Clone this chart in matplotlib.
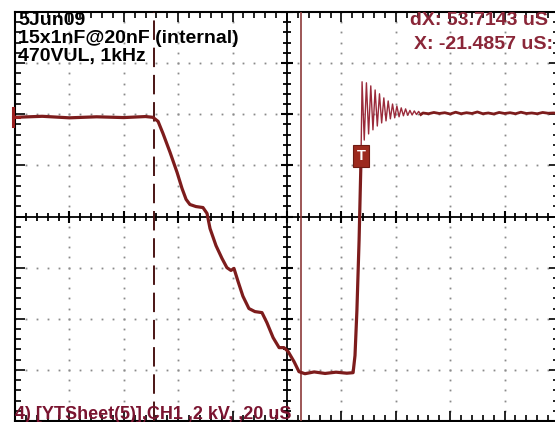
import numpy as np
import matplotlib
matplotlib.use("Agg")
import matplotlib.pyplot as plt

# ---------------- data (time in uS, voltage in kV, screen-centre referenced) -------------
t_main = [-100.0, -90.0, -80.0, -70.0, -60.0, -52.0, -49.3, -47.4, -45.6, -43.0, -40.4, -38.6,
          -37.1, -35.7, -33.5, -30.9, -29.4, -28.3, -26.1, -23.9, -22.1, -20.6, -19.5,
          -18.0, -16.2, -14.0, -11.8, -9.2, -7.4, -5.1, -2.9, -1.1, 0.4, 2.6, 4.4, 6.6,
          10.0, 14.0, 18.0, 22.0, 24.3, 25.0, 25.7, 26.5, 27.2]
v_main = [3.88, 3.92, 3.86, 3.90, 3.87, 3.91, 3.88, 3.72, 3.25, 2.51, 1.72, 1.10,
          0.67, 0.47, 0.39, 0.35, 0.12, -0.47, -1.14, -1.64, -2.00, -2.11, -2.03,
          -2.54, -3.12, -3.60, -3.72, -3.76, -4.15, -4.74, -5.13, -5.13, -5.28, -5.68, -6.07, -6.15,
          -6.08, -6.14, -6.09, -6.13, -6.11, -5.44, -3.68, -0.94, 2.21]

t_ring = [27.6, 28.4, 29.2, 30.0, 30.8, 31.6, 32.4, 33.2, 34.0, 34.8, 35.6, 36.4, 37.2, 38.0,
          38.8, 39.6, 40.4, 41.2, 42.0, 42.8, 43.6, 44.4, 45.2, 46.0, 46.8, 47.6, 48.4, 49.2]
v_ring = [5.27, 2.99, 5.23, 3.23, 5.11, 3.39, 4.95, 3.54, 4.80, 3.66, 4.64, 3.74, 4.52, 3.82,
          4.40, 3.86, 4.32, 3.90, 4.25, 3.94, 4.21, 3.96, 4.15, 3.97, 4.13, 3.99, 4.11, 3.99]

t_tail = [50.0, 52.0, 54.0, 56.0, 58.0, 60.0, 62.0, 64.0, 66.0, 68.0, 70.0, 72.0, 74.0, 76.0,
          78.0, 80.0, 82.0, 84.0, 86.0, 88.0, 90.0, 92.0, 94.0, 96.0, 98.0, 100.0]
v_tail = [4.05, 4.02, 4.07, 4.03, 4.06, 4.01, 4.08, 4.02, 4.06, 4.03, 4.09, 4.02, 4.05, 4.01,
          4.07, 4.03, 4.06, 4.02, 4.08, 4.03, 4.05, 4.02, 4.07, 4.04, 4.05, 4.03]

cursor_x = -48.75          # uS
cursor_dx = 53.7143        # uS
trigger_t, trigger_v = 27.2, 2.37

header_lines = ["5Jun09", "15x1nF@20nF (internal)", "470VUL, 1kHz"]
cursor_lines = ["dX: 53.7143 uS", "X: -21.4857 uS:"]
footer = "4) [YTSheet(5)],CH1 ,2 kV, ,20 uS"

# ---------------- figure --------------------------------------------------------------
W, H = 555, 422
fig = plt.figure(figsize=(W / 100, H / 100), dpi=100)
fig.patch.set_facecolor("white")
L, R, T, B = 15, 559, 12, 421
ax = fig.add_axes([L / W, (H - B) / H, (R - L) / W, (B - T) / H])
ax.set_xlim(-100, 100)
ax.set_ylim(-8, 8)
ax.set_facecolor("white")

# dotted grid
dot_col = "#8a8a8a"
xs_minor = np.arange(-100, 100.01, 4)
ys_minor = np.arange(-8, 8.01, 0.4)
for gy in [-6, -4, -2, 2, 4, 6]:
    ax.plot(xs_minor, np.full_like(xs_minor, gy), ls="none", marker="s",
            ms=1.3, mfc=dot_col, mec="none", zorder=1)
for gx in [-80, -60, -40, -20, 20, 40, 60, 80]:
    ax.plot(np.full_like(ys_minor, gx), ys_minor, ls="none", marker="s",
            ms=1.3, mfc=dot_col, mec="none", zorder=1)

# centre axes with ticks
ax.axhline(0, color="black", lw=1.3, zorder=2)
ax.axvline(0, color="black", lw=1.3, zorder=2)
ax.plot(xs_minor, np.zeros_like(xs_minor), ls="none", marker="|", ms=5.5,
        mew=1.3, color="black", zorder=2)
ax.plot(np.zeros_like(ys_minor), ys_minor, ls="none", marker="_", ms=5.5,
        mew=1.3, color="black", zorder=2)
ax.plot(np.arange(-100, 101, 20), np.zeros(11), ls="none", marker="|", ms=8,
        mew=1.5, color="black", zorder=2)
ax.plot(np.zeros(9), np.arange(-8, 9, 2), ls="none", marker="_", ms=8,
        mew=1.5, color="black", zorder=2)

# border ticks
ax.set_xticks(np.arange(-100, 101, 20))
ax.set_yticks(np.arange(-8, 9, 2))
ax.set_xticks(xs_minor, minor=True)
ax.set_yticks(ys_minor, minor=True)
ax.tick_params(which="both", direction="in", top=True, right=True,
               labelbottom=False, labelleft=False, color="black", width=1.2)
ax.tick_params(which="major", length=7)
ax.tick_params(which="minor", length=4)
for s in ax.spines.values():
    s.set_linewidth(1.5)
    s.set_color("black")

# cursors
ax.axvline(cursor_x, color="#4a1414", lw=1.4, ls=(0, (10, 4)), zorder=3)
ax.axvline(cursor_x + cursor_dx, color="#8c3a3a", lw=1.2, zorder=3)

# waveform
wave_col = "#7d1c1c"
ax.plot(t_main, v_main, color=wave_col, lw=2.3, zorder=4, solid_joinstyle="round")
ax.plot([t_main[-1]] + t_ring, [v_main[-1]] + v_ring, color="#9a2a3a", lw=1.0, zorder=4)
ax.plot(t_ring[-1:] + t_tail, v_ring[-1:] + v_tail, color=wave_col, lw=2.0, zorder=4)

# channel level marker at the left edge
ax.plot([-100.6, -100.6], [3.55, 4.25], color="#9a1f1f", lw=2.2, clip_on=False, zorder=5)
ax.plot([-100.6, -98.5], [3.88, 3.88], color="#9a1f1f", lw=2.2, clip_on=False, zorder=5)

# trigger marker
ax.text(trigger_t, trigger_v, "T", color="white", fontsize=10.5, fontweight="bold",
        ha="center", va="center", family="Liberation Sans", zorder=6,
        bbox=dict(boxstyle="square,pad=0.25", fc="#9c2a1e", ec="#6e1a12", lw=0.8))

# texts
font = dict(family="Liberation Sans", fontweight="bold", fontsize=14)
for i, line in enumerate(header_lines):
    fig.text(18 / W, 1 - (25 + 18 * i) / H, line, color="black", va="baseline", **font)
for i, line in enumerate(cursor_lines):
    fig.text([410, 414][i] / W, 1 - (25 + 24 * i) / H, line, color="#8a2638",
             va="baseline", **font)
fig.text(15 / W, 1 - 419 / H, footer, color="#7a1430", va="baseline",
         family="Liberation Sans", fontweight="bold", fontsize=13)

fig.savefig("out.png", dpi=100)
